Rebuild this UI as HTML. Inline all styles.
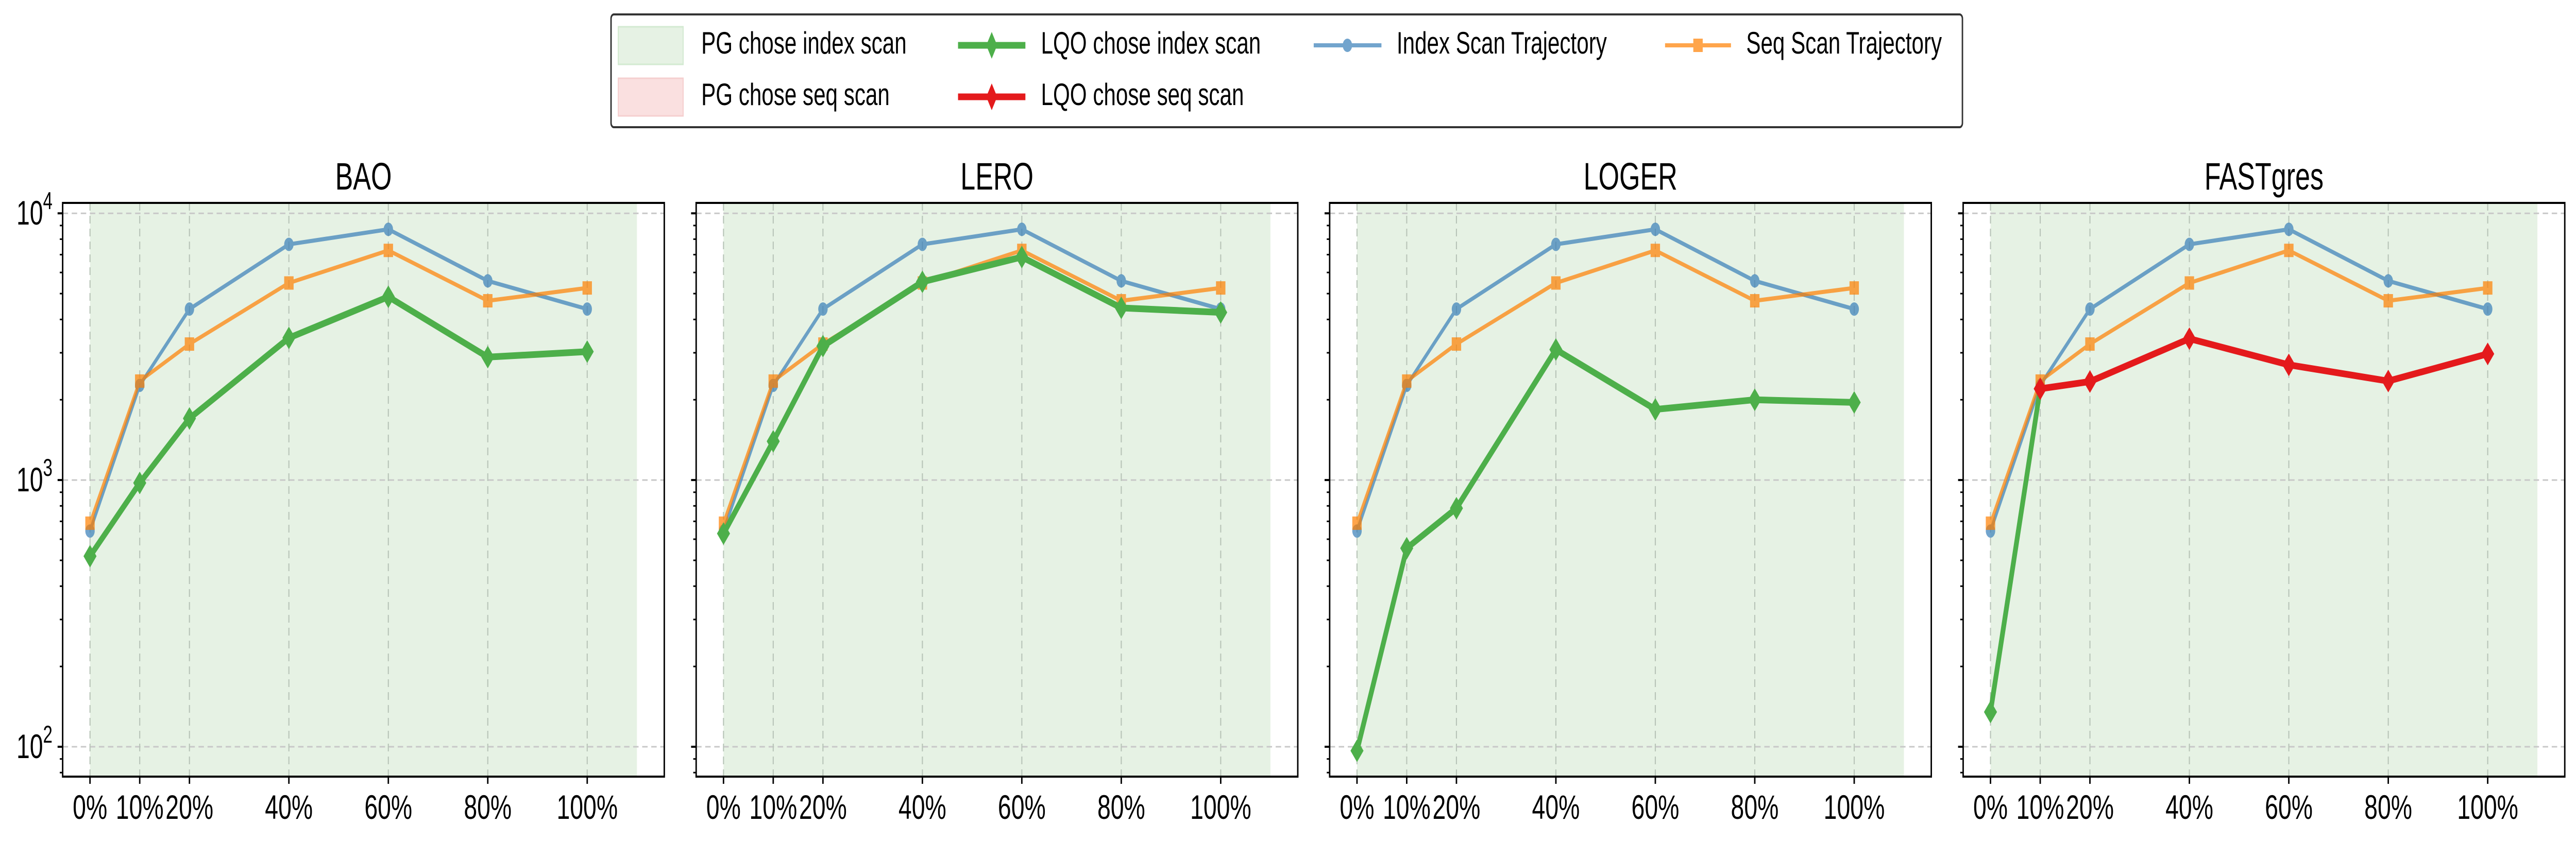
<!DOCTYPE html>
<html><head><meta charset="utf-8"><style>
html,body{margin:0;padding:0;background:#fff;overflow:hidden;width:100%;height:100%;}
svg{display:block;width:100vw;height:100vh;font-family:"Liberation Sans","DejaVu Sans",sans-serif;}
</style></head><body>
<svg id="fig" viewBox="0 0 7112 1633" preserveAspectRatio="none" xmlns="http://www.w3.org/2000/svg">
<g id="legend">
  <rect x="1687" y="28" width="3731" height="219" rx="8" fill="#fff" stroke="#333" stroke-width="4"/>
  <g>
    <rect x="1707" y="52" width="179" height="73" fill="#e6f2e4" stroke="#d3ead1" stroke-width="3"/>
    <text x="1936" y="88" font-size="60" dominant-baseline="middle">PG chose index scan</text>
  </g>
  <g>
    <rect x="1707" y="152" width="179" height="73" fill="#fae0e0" stroke="#f5cfcf" stroke-width="3"/>
    <text x="1936" y="188" font-size="60" dominant-baseline="middle">PG chose seq scan</text>
  </g>
  <g>
    <line x1="2645" y1="88" x2="2831" y2="88" stroke="#4daf4a" stroke-width="13"/>
    <polygon points="2738,62 2753,88 2738,114 2723,88" fill="#4daf4a"/>
    <text x="2874" y="88" font-size="60" dominant-baseline="middle">LQO chose index scan</text>
  </g>
  <g>
    <line x1="2645" y1="188" x2="2831" y2="188" stroke="#e41a1c" stroke-width="13"/>
    <polygon points="2738,162 2753,188 2738,214 2723,188" fill="#e41a1c"/>
    <text x="2874" y="188" font-size="60" dominant-baseline="middle">LQO chose seq scan</text>
  </g>
  <g opacity="0.7">
    <line x1="3627" y1="88" x2="3814" y2="88" stroke="#377eb8" stroke-width="8"/>
    <circle cx="3720" cy="88" r="13" fill="#377eb8"/>
  </g>
  <text x="3856" y="88" font-size="60" dominant-baseline="middle">Index Scan Trajectory</text>
  <g opacity="0.7">
    <line x1="4597" y1="88" x2="4779" y2="88" stroke="#ff7f00" stroke-width="8"/>
    <rect x="4675" y="75" width="26" height="26" fill="#ff7f00"/>
  </g>
  <text x="4821" y="88" font-size="60" dominant-baseline="middle">Seq Scan Trajectory</text>
</g>
<g id="panels"></g>
</svg>
<script>
const xCats = [0, 10, 20, 40, 60, 80, 100];
const xTickLabels = ["0%", "10%", "20%", "40%", "60%", "80%", "100%"];
const indexTraj = [644, 2265, 4375, 7650, 8710, 5580, 4375];
const seqTraj = [689, 2350, 3235, 5480, 7260, 4700, 5250];
const panelTitles = ["BAO", "LERO", "LOGER", "FASTgres"];
const baoLqo = [518, 975, 1702, 3410, 4865, 2890, 3030];
const leroLqo = [630, 1397, 3177, 5535, 6856, 4420, 4250];
const logerLqo = [96.6, 555, 784, 3085, 1840, 2000, 1954];
const fastgresLqo = [135, 2199, 2340, 3388, 2703, 2350, 2972];
// 'i' = LQO chose index scan, 's' = LQO chose seq scan
const baoChoice = ['i','i','i','i','i','i','i'];
const leroChoice = ['i','i','i','i','i','i','i'];
const logerChoice = ['i','i','i','i','i','i','i'];
const fastgresChoice = ['i','s','s','s','s','s','s'];
const pgSpan = [0, 110];
const yTickDecades = [2, 3, 4];

const NS = "http://www.w3.org/2000/svg";
const lqoSeries = [baoLqo, leroLqo, logerLqo, fastgresLqo];
const choices = [baoChoice, leroChoice, logerChoice, fastgresChoice];
const panelLefts = [173, 1922, 3671, 5420];
const PW = 1661, PT = 394, PB = 1508;
const XMIN = -5.5, XMAX = 115.5, LMIN = 1.888, LMAX = 4.039;
function mk(tag, attrs, parent){const e=document.createElementNS(NS,tag);for(const k in attrs)e.setAttribute(k,attrs[k]);parent.appendChild(e);return e;}
const root = document.getElementById('panels');

panelTitles.forEach((title, p) => {
  const L = panelLefts[p];
  const xs = v => L + (v - XMIN) / (XMAX - XMIN) * PW;
  const ys = v => PB - (Math.log10(v) - LMIN) / (LMAX - LMIN) * (PB - PT);
  const g = mk('g', {}, root);
  
  
  const cid = 'clip' + p;
  const cp = mk('clipPath', {id: cid}, g);
  mk('rect', {x: L, y: PT, width: PW, height: PB - PT}, cp);
  const span = mk('rect', {x: xs(pgSpan[0]), y: PT, width: xs(pgSpan[1]) - xs(pgSpan[0]), height: PB - PT, fill: '#e6f2e4'}, g);
  
  
  yTickDecades.forEach(d => {
    const y = ys(Math.pow(10, d));
    const gl = mk('line', {x1: L, x2: L + PW, y1: y, y2: y, stroke: '#c8c8c8', 'stroke-width': 3, 'stroke-dasharray': '15 10'}, g);
    
    
  });
  xCats.forEach(c => {
    const x = xs(c);
    const gl = mk('line', {x1: x, x2: x, y1: PT, y2: PB, stroke: '#b8c4b8', 'stroke-width': 3, 'stroke-dasharray': '15 10'}, g);
    
    
  });
  const data = mk('g', {'clip-path': 'url(#' + cid + ')'}, g);
  const traj = (arr, color, name, marker) => {
    const tg = mk('g', {opacity: 0.7}, data);
    
    
    mk('polyline', {points: arr.map((v, i) => xs(xCats[i]) + ',' + ys(v)).join(' '), fill: 'none', stroke: color, 'stroke-width': 8, 'stroke-linejoin': 'round'}, tg);
    arr.forEach((v, i) => {
      let m;
      if (marker === 'o') m = mk('circle', {cx: xs(xCats[i]), cy: ys(v), r: 13, fill: color}, tg);
      else m = mk('rect', {x: xs(xCats[i]) - 13, y: ys(v) - 13, width: 26, height: 26, fill: color}, tg);
      
      
    });
  };
  traj(indexTraj, '#377eb8', 'index-scan-trajectory', 'o');
  traj(seqTraj, '#ff7f00', 'seq-scan-trajectory', 's');
  const lq = lqoSeries[p], ch = choices[p];
  const lg = mk('g', {}, data);
  
  
  for (let i = 0; i < lq.length - 1; i++) {
    const col = ch[i] === 'i' ? '#4daf4a' : '#e41a1c';
    const s = mk('line', {x1: xs(xCats[i]), y1: ys(lq[i]), x2: xs(xCats[i+1]), y2: ys(lq[i+1]), stroke: col, 'stroke-width': 13, 'stroke-linecap': 'round'}, lg);
    
    
  }
  lq.forEach((v, i) => {
    const x = xs(xCats[i]), y = ys(v), col = ch[i] === 'i' ? '#4daf4a' : '#e41a1c';
    const d = mk('polygon', {points: `${x},${y-22} ${x+18},${y} ${x},${y+22} ${x-18},${y}`, fill: col}, lg);
    
    
  });
  const fr = mk('rect', {x: L, y: PT, width: PW, height: PB - PT, fill: 'none', stroke: '#000', 'stroke-width': 4}, g);
  
  
  for (let d = 1; d <= 4; d++) {
    for (let k = 1; k <= 9; k++) {
      const v = k * Math.pow(10, d);
      const lv = Math.log10(v);
      if (lv < LMIN || lv > LMAX) continue;
      const y = ys(v), len = k === 1 ? 14 : 8;
      const t = mk('line', {x1: L - len, x2: L, y1: y, y2: y, stroke: '#000', 'stroke-width': k === 1 ? 4 : 3}, g);
      
      
    }
  }
  if (p === 0) {
    yTickDecades.forEach(d => {
      const y = ys(Math.pow(10, d));
      const t = mk('text', {x: L - 28, y: y + 22, 'font-size': 66, 'text-anchor': 'end'}, g);
      
      
      t.appendChild(document.createTextNode('10'));
      const sup = mk('tspan', {'font-size': 47, dy: -30}, t);
      sup.textContent = String(d);
    });
  }
  xCats.forEach((c, i) => {
    const x = xs(c);
    const t = mk('line', {x1: x, x2: x, y1: PB, y2: PB + 14, stroke: '#000', 'stroke-width': 4}, g);
    
    
    const lb = mk('text', {x: x, y: 1590, 'font-size': 66, 'text-anchor': 'middle'}, g);
    
    
    lb.textContent = xTickLabels[i];
  });
  const tt = mk('text', {x: L + PW / 2, y: 368, 'font-size': 74, 'text-anchor': 'middle'}, g);
  
  
  tt.textContent = title;
});
</script>
</body></html>
